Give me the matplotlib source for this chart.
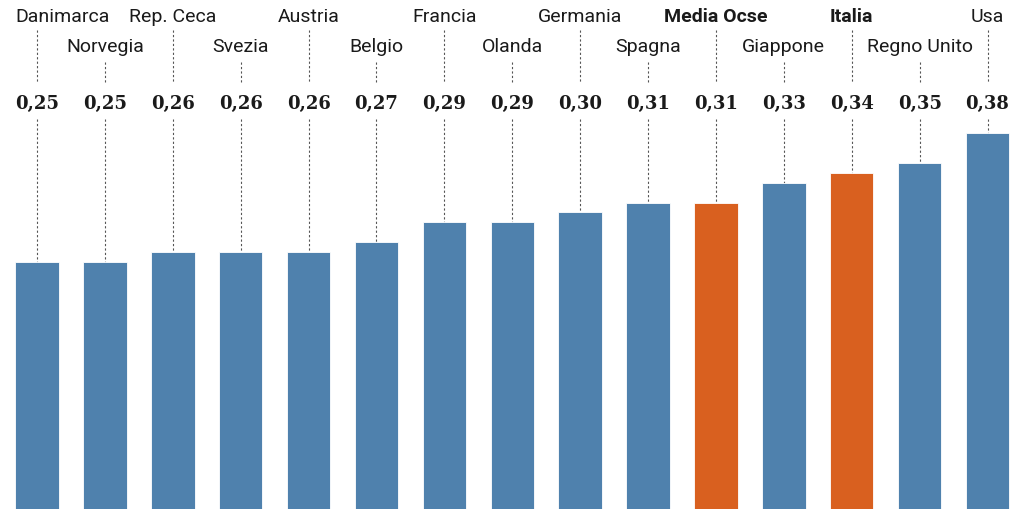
"""Income inequality bars (Gini) with staggered country labels."""

import matplotlib

matplotlib.use("Agg")

import matplotlib.pyplot as plt


COUNTRIES = [
    "Danimarca", "Norvegia", "Rep. Ceca", "Svezia", "Austria", "Belgio",
    "Francia", "Olanda", "Germania", "Spagna", "Media Ocse", "Giappone",
    "Italia", "Regno Unito", "Usa",
]
VALUES = [0.25, 0.25, 0.26, 0.26, 0.26, 0.27, 0.29, 0.29, 0.30, 0.31,
          0.31, 0.33, 0.34, 0.35, 0.38]
HIGHLIGHT = ["Media Ocse", "Italia"]

BLUE = "#4f81ad"
ORANGE = "#d9601f"
LINE = "#555555"

LABEL_FONT = ["Roboto", "DejaVu Sans"]
VALUE_FONT = ["DejaVu Serif"]
BAR_WIDTH = 0.64


def main() -> None:
    fig = plt.figure(figsize=(10.14, 5.09), dpi=100)
    ax = fig.add_axes([0, 0, 1, 1])
    ax.set_xlim(-0.545, 14.39)
    ax.set_ylim(0, 0.515)
    ax.axis("off")

    colors = [ORANGE if c in HIGHLIGHT else BLUE for c in COUNTRIES]
    x = list(range(len(COUNTRIES)))
    ax.bar(x, VALUES, width=BAR_WIDTH, color=colors, edgecolor="white",
           linewidth=0.6, zorder=2)

    row_y = [0.498, 0.4676]
    line_top = [0.485, 0.4524]
    value_y = 0.410
    for i, (name, val) in enumerate(zip(COUNTRIES, VALUES)):
        row = i % 2
        bold = name in HIGHLIGHT
        # first label is pushed right so it stays inside the frame
        tx, ha = (i - BAR_WIDTH / 2, "left") if i == 0 else (i, "center")
        ax.text(tx, row_y[row], name, ha=ha, va="center",
                fontsize=14, family=LABEL_FONT,
                fontweight="bold" if bold else "normal", color="#1a1a1a")
        ax.plot([i, i], [line_top[row], 0.431], ls=(0, (2, 2)),
                lw=0.8, color=LINE, zorder=1)
        ax.text(i, value_y, f"{val:.2f}".replace(".", ","), ha="center",
                va="center", fontsize=13, family=VALUE_FONT,
                fontweight="bold", color="#1a1a1a")
        ax.plot([i, i], [0.395, val], ls=(0, (2, 2)), lw=0.8,
                color=LINE, zorder=1)

    fig.savefig("out.png", dpi=100)
    plt.close(fig)


if __name__ == "__main__":
    main()
